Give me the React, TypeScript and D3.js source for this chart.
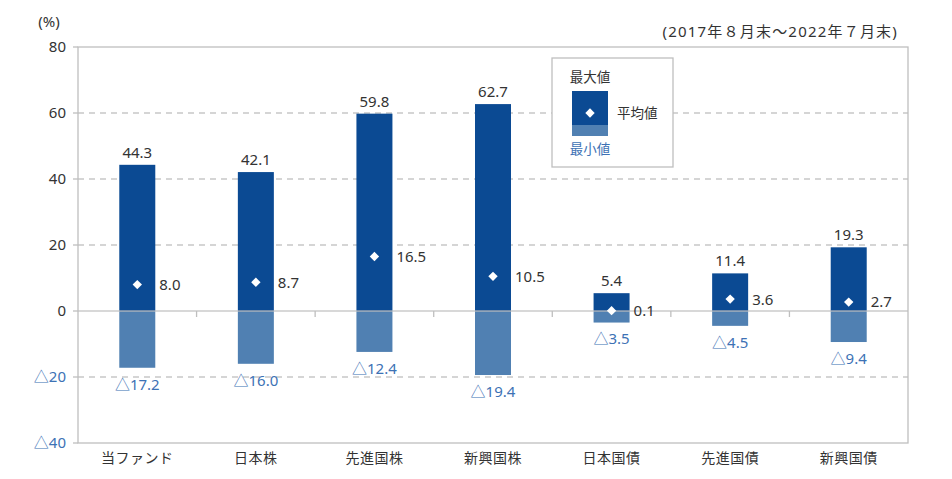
import React from "react";
import * as d3 from "d3";

const categories = ["当ファンド", "日本株", "先進国株", "新興国株", "日本国債", "先進国債", "新興国債"];
const maxValues = [44.3, 42.1, 59.8, 62.7, 5.4, 11.4, 19.3];
const avgValues = [8.0, 8.7, 16.5, 10.5, 0.1, 3.6, 2.7];
const minValues = [-17.2, -16.0, -12.4, -19.4, -3.5, -4.5, -9.4];
const yTicks = [80, 60, 40, 20, 0, -20, -40];

const W = 952, H = 479;
const M = { left: 78, right: 908, top: 47, bottom: 443 };
const DARK = "#0b4a93";
const LIGHT = "#5080b2";
const NEG = "#3d72b5";
const TXT = "#333333";
const FONT = "'Noto Sans', 'Noto Sans CJK JP', sans-serif";
const JFONT = "'Noto Sans CJK JP', sans-serif";

const fmt = (v: number) => (v < 0 ? "△" + Math.abs(v).toFixed(1) : v.toFixed(1));

export default function App() {
  const x = d3.scaleBand<string>().domain(categories).range([M.left, M.right]).paddingInner(0).paddingOuter(0);
  const y = d3.scaleLinear().domain([-40, 80]).range([M.bottom, M.top]);
  const bw = 36;
  const y0 = y(0);
  const diamond = d3.symbol().type(d3.symbolDiamond2).size(56)();

  return (
    <svg width={W} height={H} style={{ position: "absolute", left: 0, top: 0, fontFamily: FONT }}>
      <rect width={W} height={H} fill="#fff" />
      {/* grid */}
      {yTicks.filter((t) => t !== 0 && t !== 80 && t !== -40).map((t) => (
        <line key={t} x1={M.left} x2={M.right} y1={y(t)} y2={y(t)} stroke="#c8c8c8" strokeWidth={1.3} strokeDasharray="6,5" />
      ))}
      {/* frame */}
      <rect x={M.left} y={M.top} width={M.right - M.left} height={M.bottom - M.top} fill="none" stroke="#bfbfbf" strokeWidth={1.3} />
      {/* y ticks */}
      {yTicks.map((t) => (
        <g key={t}>
          <line x1={M.left - 5} x2={M.left} y1={y(t)} y2={y(t)} stroke="#bfbfbf" strokeWidth={1.3} />
          <text x={66} y={y(t)} dy="0.36em" textAnchor="end" fontSize={15} fill={t < 0 ? NEG : TXT}>
            {t < 0 ? "△" + Math.abs(t) : t}
          </text>
        </g>
      ))}
      <text x={49} y={22} dy="0.36em" textAnchor="middle" fontSize={15} fill={TXT}>(%)</text>
      <text x={898} y={32} dy="0.36em" textAnchor="end" fontSize={15} letterSpacing={1.2} fill={TXT}>(2017年８月末～2022年７月末)</text>

      {/* bars */}
      {categories.map((c, i) => {
        const cx = (x(c) as number) + x.bandwidth() / 2;
        return (
          <g key={c}>
            <rect x={cx - bw / 2} y={y(maxValues[i])} width={bw} height={y0 - y(maxValues[i])} fill={DARK} />
            <rect x={cx - bw / 2} y={y0} width={bw} height={y(minValues[i]) - y0} fill={LIGHT} />
          </g>
        );
      })}
      {/* zero line */}
      <line x1={M.left} x2={M.right} y1={y0} y2={y0} stroke="#bfbfbf" strokeOpacity={0.8} strokeWidth={1.5} />
      {categories.slice(1).map((c) => (
        <line key={c} x1={x(c) as number} x2={x(c) as number} y1={y0} y2={y0 + 6} stroke="#bfbfbf" strokeWidth={1.3} />
      ))}
      {categories.map((c, i) => {
        const cx = (x(c) as number) + x.bandwidth() / 2;
        return (
          <g key={c + "l"}>
            <path d={diamond as string} transform={`translate(${cx},${y(avgValues[i])})`} fill="#fff" />
            <text x={cx} y={y(maxValues[i]) - 7} textAnchor="middle" fontSize={15} fill={TXT}>{fmt(maxValues[i])}</text>
            <text x={cx + bw / 2 + 4} y={y(avgValues[i])} dy="0.36em" fontSize={15} fill={TXT}>{fmt(avgValues[i])}</text>
            <text x={cx} y={y(minValues[i]) + 11} dy="0.72em" textAnchor="middle" fontSize={15} fill={NEG}>{fmt(minValues[i])}</text>
            <text x={cx} y={458} dy="0.36em" textAnchor="middle" fontSize={14} letterSpacing={0.5} fontFamily={JFONT} fill={TXT}>{c}</text>
          </g>
        );
      })}

      {/* legend */}
      <rect x={552} y={58} width={121} height={109} fill="#fff" stroke="#bfbfbf" strokeWidth={1.3} />
      <text x={590} y={77} dy="0.36em" textAnchor="middle" fontSize={13.5} fontFamily={JFONT} fill={TXT}>最大値</text>
      <rect x={572} y={91} width={36} height={34} fill={DARK} />
      <rect x={572} y={125} width={36} height={11} fill={LIGHT} />
      <path d={diamond as string} transform={`translate(590,113)`} fill="#fff" />
      <text x={617} y={113} dy="0.36em" fontSize={13.5} fontFamily={JFONT} fill={TXT}>平均値</text>
      <text x={590} y={149} dy="0.36em" textAnchor="middle" fontSize={13.5} fontFamily={JFONT} fill={NEG}>最小値</text>
    </svg>
  );
}
